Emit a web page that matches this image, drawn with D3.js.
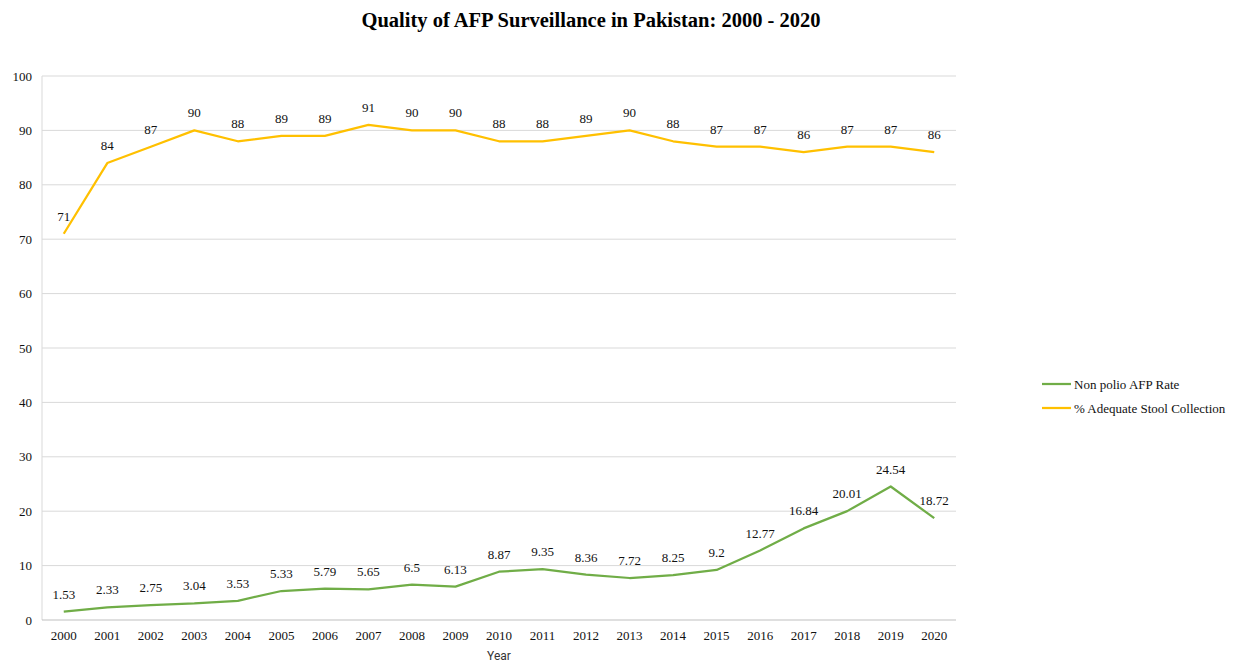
<!DOCTYPE html>
<html>
<head>
<meta charset="utf-8">
<script src="https://cdn.jsdelivr.net/npm/d3@7"></script>
<style>
  body { margin: 0; background: #fff; }
  svg { display: block; font-family: "Liberation Serif", "Times New Roman", serif; }
</style>
</head>
<body>
<svg id="chart" width="1234" height="663"></svg>
<script>
const years = ["2000","2001","2002","2003","2004","2005","2006","2007","2008","2009","2010",
  "2011","2012","2013","2014","2015","2016","2017","2018","2019","2020"];
const nonPolioAfpRate = [1.53,2.33,2.75,3.04,3.53,5.33,5.79,5.65,6.5,6.13,8.87,9.35,8.36,7.72,8.25,9.2,12.77,16.84,20.01,24.54,18.72];
const adequateStool = [71,84,87,90,88,89,89,91,90,90,88,88,89,90,88,87,87,86,87,87,86];
const yTicks = [0,10,20,30,40,50,60,70,80,90,100];

const series = [
  { name: "Non polio AFP Rate", values: nonPolioAfpRate, color: "#70ad47" },
  { name: "% Adequate Stool Collection", values: adequateStool, color: "#ffc000" },
];

(() => {
  const svg = d3.select("#chart");
  const plotL = 42, plotR = 956, plotT = 76, plotB = 620;

  const x = d3.scaleBand().domain(years).range([plotL, plotR]);
  const y = d3.scaleLinear().domain([0, 100]).range([plotB, plotT]);
  const cx = (i) => x(years[i]) + x.bandwidth() / 2;

  // title
  svg.append("text")
    .attr("x", 591).attr("y", 27)
    .attr("text-anchor", "middle")
    .attr("font-size", 20.5).attr("font-weight", 700)
    .text("Quality of AFP Surveillance in Pakistan: 2000 - 2020");

  // gridlines
  svg.append("g").selectAll("line").data(yTicks.filter(d => d > 0)).join("line")
    .attr("x1", plotL).attr("x2", plotR)
    .attr("y1", d => y(d)).attr("y2", d => y(d))
    .attr("stroke", "#d9d9d9").attr("stroke-width", 1);

  // axis lines
  svg.append("line").attr("x1", plotL).attr("x2", plotL).attr("y1", plotT).attr("y2", plotB)
    .attr("stroke", "#d9d9d9");
  svg.append("line").attr("x1", plotL).attr("x2", plotR).attr("y1", plotB).attr("y2", plotB)
    .attr("stroke", "#bfbfbf");

  // y tick labels
  svg.append("g").selectAll("text").data(yTicks).join("text")
    .attr("x", 32).attr("y", d => y(d) + 4.5)
    .attr("text-anchor", "end")
    .attr("font-size", 13).attr("fill", "#111")
    .text(d => d);

  // x tick labels
  svg.append("g").selectAll("text").data(years).join("text")
    .attr("x", d => x(d) + x.bandwidth() / 2).attr("y", 640)
    .attr("text-anchor", "middle")
    .attr("font-size", 13).attr("fill", "#111")
    .text(d => d);

  svg.append("text")
    .attr("x", 499).attr("y", 660)
    .attr("text-anchor", "middle")
    .attr("font-family", "Roboto, 'Liberation Sans', sans-serif")
    .attr("font-size", 12).attr("fill", "#333")
    .text("Year");

  const line = d3.line()
    .x((d, i) => cx(i))
    .y(d => y(d));

  series.forEach(s => {
    svg.append("path")
      .attr("d", line(s.values))
      .attr("fill", "none")
      .attr("stroke", s.color)
      .attr("stroke-width", 2.25)
      .attr("stroke-linejoin", "round");

    svg.append("g").selectAll("text").data(s.values).join("text")
      .attr("x", (d, i) => cx(i))
      .attr("y", d => y(d) - 13)
      .attr("text-anchor", "middle")
      .attr("font-size", 13).attr("fill", "#111")
      .text(d => d);
  });

  // legend
  series.forEach((s, i) => {
    const ly = 384 + i * 24;
    svg.append("line")
      .attr("x1", 1042).attr("x2", 1071).attr("y1", ly).attr("y2", ly)
      .attr("stroke", s.color).attr("stroke-width", 2.25);
    svg.append("text")
      .attr("x", 1074).attr("y", ly + 4.5)
      .attr("font-size", 13).attr("fill", "#111")
      .text(s.name);
  });
})();
</script>
</body>
</html>
